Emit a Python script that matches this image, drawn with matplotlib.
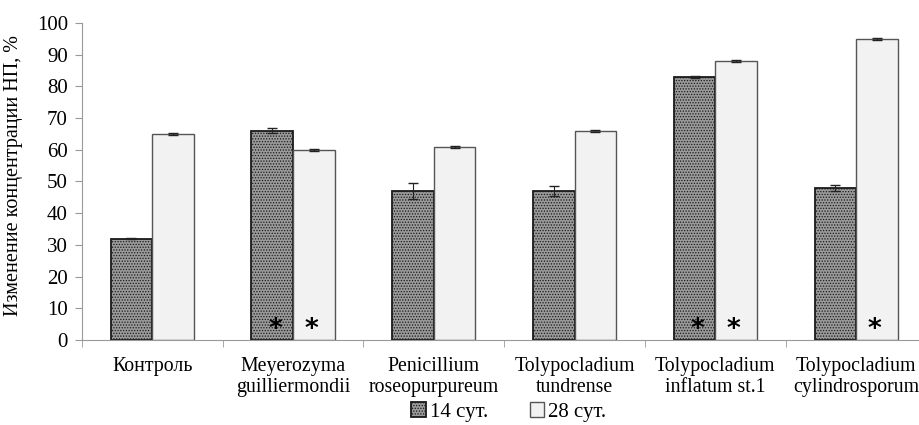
import numpy as np
import matplotlib.pyplot as plt

plt.rcParams['font.family'] = ['Liberation Serif', 'DejaVu Serif']
plt.rcParams['hatch.linewidth'] = 0.6

categories = ['Контроль', 'Meyerozyma\nguilliermondii', 'Penicillium\nroseopurpureum',
              'Tolypocladium\ntundrense', 'Tolypocladium\ninflatum st.1', 'Tolypocladium\ncylindrosporum']
day14 = [32, 66, 47, 47, 83, 48]
day28 = [65, 60, 61, 66, 88, 95]
err14 = [0.3, 0.8, 2.5, 1.5, 0.3, 1.0]
err28 = [0.3, 0.3, 0.3, 0.3, 0.3, 0.3]
# significance marks (asterisks) at the bottom of bars
star14 = [False, True, False, False, True, False]
star28 = [False, True, False, False, True, True]

fig = plt.figure(figsize=(9.2, 4.25), dpi=100)
ax = fig.add_axes([0.089, 0.2, 0.918, 0.746])

x = np.arange(len(categories))
w = 0.295
b1 = ax.bar(x - w / 2, day14, w, color='#9a9a9a', edgecolor='#1a1a1a', linewidth=1.3,
            hatch='......', label='14 сут.')
b2 = ax.bar(x + w / 2, day28, w, color='#f2f2f2', edgecolor='#555555', linewidth=1.0,
            label='28 сут.')
ax.errorbar(x - w / 2, day14, yerr=err14, fmt='none', ecolor='#222222', elinewidth=0.8, capsize=3.5)
ax.errorbar(x + w / 2, day28, yerr=err28, fmt='none', ecolor='#222222', elinewidth=0.8, capsize=3.5)

for i in range(len(categories)):
    if star14[i]:
        ax.text(x[i] - w / 2 + 0.02, 3.2, '*', ha='center', va='center', fontsize=19,
                family='DejaVu Sans', fontweight='bold')
    if star28[i]:
        ax.text(x[i] + w / 2 - 0.02, 3.2, '*', ha='center', va='center', fontsize=19,
                family='DejaVu Sans', fontweight='bold')

ax.set_ylim(0, 100)
ax.set_yticks(range(0, 101, 10))
ax.set_xlim(-0.5, 5.5)
ax.set_xticks(x)
ax.set_xticklabels(categories, fontsize=14.3, linespacing=1.15)
ax.set_xticks(np.arange(-0.5, 6.0, 1.0), minor=True)
ax.tick_params(axis='x', which='major', length=0, pad=12)
ax.tick_params(axis='x', which='minor', length=5, color='#999999')
ax.tick_params(axis='y', labelsize=15, length=5, color='#999999', pad=5)
ax.set_ylabel('Изменение концентрации НП, %', fontsize=14.5)
ax.yaxis.set_label_coords(-0.07, 0.52)

for s in ['top', 'right']:
    ax.spines[s].set_visible(False)
for s in ['left', 'bottom']:
    ax.spines[s].set_color('#999999')

fig.legend(handles=[b1, b2], loc='center', bbox_to_anchor=(0.553, 0.03), ncol=2,
           frameon=False, fontsize=15, handlelength=0.7, handleheight=0.7,
           columnspacing=2.0, handletextpad=0.2)

fig.savefig('out.png', dpi=100)
